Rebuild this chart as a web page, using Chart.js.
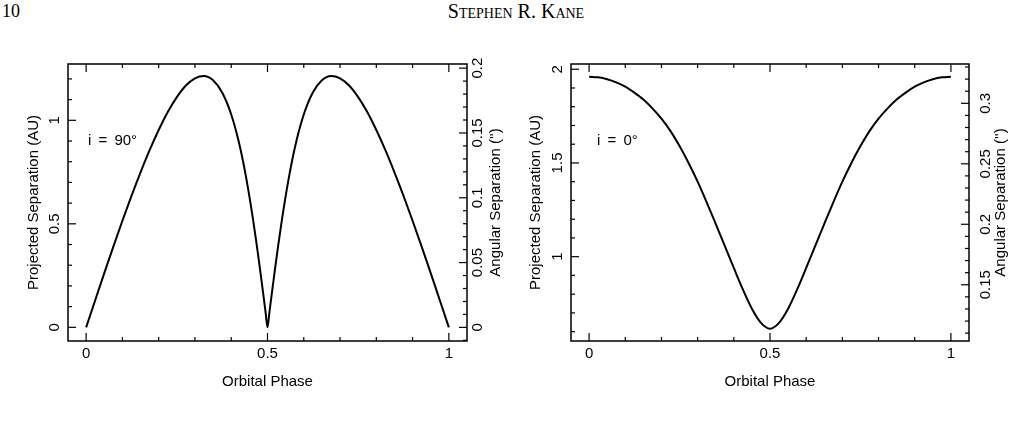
<!DOCTYPE html>
<html>
<head>
<meta charset="utf-8">
<title>Projected and angular separation vs orbital phase</title>
<script src="https://cdn.jsdelivr.net/npm/chart.js@4.4.1/dist/chart.umd.min.js"></script>
<style>
    html, body { margin: 0; padding: 0; background: #fff; }
    body { width: 1015px; height: 421px; position: relative; overflow: hidden; }
    .running-head {
        position: absolute;
        top: 1px;
        font-family: "Liberation Serif", "DejaVu Serif", serif;
        font-size: 18px;
        color: #000;
        white-space: nowrap;
    }
    #folio { left: 2px; }
    #author { left: 0; top: 0; width: 1032px; text-align: center; font-variant: small-caps; font-size: 20px; }
    canvas { position: absolute; top: 0; }
    #edge-on { left: 0; }
    #face-on { left: 507px; }
</style>
</head>
<body>
<div class="running-head" id="folio">10</div>
<div class="running-head" id="author">Stephen R. Kane</div>
<canvas id="edge-on" width="507" height="421"></canvas>
<canvas id="face-on" width="508" height="421"></canvas>

<script>
// --- 1. DATA ---
const phaseTicks = [0, 0.5, 1];

// left panel, i = 90 deg
const edgeOnPhase = [0, 0.025, 0.05, 0.075, 0.1, 0.125, 0.15, 0.175, 0.2, 0.225, 0.25, 0.275, 0.3, 0.325, 0.35, 0.375, 0.4,
    0.42, 0.44, 0.46, 0.47, 0.48, 0.49, 0.495, 0.5, 0.505, 0.51, 0.52, 0.53, 0.54, 0.56, 0.58, 0.6,
    0.625, 0.65, 0.675, 0.7, 0.725, 0.75, 0.775, 0.8, 0.825, 0.85, 0.875, 0.9, 0.925, 0.95, 0.975, 1];
const edgeOnSep = [0, 0.131, 0.262, 0.390, 0.515, 0.635, 0.749, 0.856, 0.953, 1.040, 1.112, 1.168, 1.203, 1.214, 1.193, 1.134, 1.028,
    0.902, 0.734, 0.523, 0.402, 0.273, 0.138, 0.069, 0, 0.069, 0.138, 0.273, 0.402, 0.523, 0.734, 0.902, 1.028,
    1.134, 1.193, 1.214, 1.203, 1.168, 1.112, 1.040, 0.953, 0.856, 0.749, 0.635, 0.515, 0.390, 0.262, 0.131, 0];
const edgeOnAuTicks = [0, 0.5, 1];
const edgeOnArcTicks = [0, 0.05, 0.1, 0.15, 0.2];

// right panel, i = 0 deg
const faceOnPhase = [0, 0.025, 0.05, 0.075, 0.1, 0.125, 0.15, 0.175, 0.2, 0.225, 0.25, 0.275, 0.3, 0.325, 0.35, 0.375, 0.4, 0.425, 0.45, 0.475,
    0.5, 0.525, 0.55, 0.575, 0.6, 0.625, 0.65, 0.675, 0.7, 0.725, 0.75, 0.775, 0.8, 0.825, 0.85, 0.875, 0.9, 0.925, 0.95, 0.975, 1];
const faceOnSep = [1.960, 1.957, 1.947, 1.930, 1.907, 1.875, 1.838, 1.791, 1.736, 1.670, 1.590, 1.500, 1.400, 1.290, 1.175, 1.058, 0.940, 0.825, 0.722, 0.647,
    0.616, 0.647, 0.722, 0.825, 0.940, 1.058, 1.175, 1.290, 1.400, 1.500, 1.590, 1.670, 1.736, 1.791, 1.838, 1.875, 1.907, 1.930, 1.947, 1.957, 1.960];
const faceOnAuTicks = [1, 1.5, 2];
const faceOnArcTicks = [0.15, 0.2, 0.25, 0.3];

const panelLabels = ['i = 90°', 'i = 0°'];

// --- 2. CONFIG ---
const CONFIG = {
    FONT: { family: '"Liberation Sans", Arial, sans-serif', size: 15 },
    INK: '#000',
    FRAME_WIDTH: 1.5,
    TICK_WIDTH: 1.2,
    MAJOR_TICK: 8,
    MINOR_TICK: 4,
    X_TITLE: 'Orbital Phase',
    Y_TITLE: 'Projected Separation (AU)',
    Y2_TITLE: "Angular Separation ('')"
};

const PANELS = [
    {
        canvasId: 'edge-on', phase: edgeOnPhase, sep: edgeOnSep,
        auTicks: edgeOnAuTicks, arcTicks: edgeOnArcTicks,
        yMin: -0.066, yMax: 1.272, y2Min: -0.0105, y2Max: 0.2032,
        yMinor: 0.1, y2Minor: 0.01,
        leftWidth: 68, rightWidth: 40,
        leftLabelGap: 13, leftTitleGap: 34, rightLabelGap: 11, rightTitleGap: 29,
        label: panelLabels[0], labelAt: { x: 0.005, y: 0.90 }
    },
    {
        canvasId: 'face-on', phase: faceOnPhase, sep: faceOnSep,
        auTicks: faceOnAuTicks, arcTicks: faceOnArcTicks,
        yMin: 0.55, yMax: 2.028, y2Min: 0.1035, y2Max: 0.3325,
        yMinor: 0.1, y2Minor: 0.01,
        leftWidth: 64, rightWidth: 46,
        leftLabelGap: 13, leftTitleGap: 35, rightLabelGap: 17, rightTitleGap: 32,
        label: panelLabels[1], labelAt: { x: 0.022, y: 1.616 }
    }
];

// --- 3. PGPLOT-STYLE FRAME (inward ticks on all four sides, rotated y labels) ---
const minorValues = (scale, step) => {
    const out = [];
    for (let k = Math.ceil(scale.min / step - 1e-6); k <= Math.floor(scale.max / step + 1e-6); k++) {
        out.push(Math.round(k * step * 1e6) / 1e6);
    }
    return out;
};
const isMajor = (scale, v) => scale.ticks.some(t => Math.abs(t.value - v) < 1e-6);

const segment = (ctx, x1, y1, x2, y2) => {
    ctx.beginPath();
    ctx.moveTo(x1, y1);
    ctx.lineTo(x2, y2);
    ctx.stroke();
};

const rotatedText = (ctx, text, x, y) => {
    ctx.save();
    ctx.translate(x, y);
    ctx.rotate(-Math.PI / 2);
    ctx.textAlign = 'center';
    ctx.textBaseline = 'middle';
    ctx.fillText(text, 0, 0);
    ctx.restore();
};

const pgFramePlugin = {
    id: 'pgFrame',
    afterDraw(chart, args, opts) {
        const { ctx, chartArea: a } = chart;
        const { x: sx, y: sy, y2: sy2 } = chart.scales;
        const font = `${CONFIG.FONT.size}px ${CONFIG.FONT.family}`;

        ctx.save();
        ctx.strokeStyle = CONFIG.INK;
        ctx.fillStyle = CONFIG.INK;

        ctx.lineWidth = CONFIG.TICK_WIDTH;
        minorValues(sx, 0.1).forEach(v => {
            const px = sx.getPixelForValue(v);
            const len = isMajor(sx, v) ? CONFIG.MAJOR_TICK : CONFIG.MINOR_TICK;
            segment(ctx, px, a.bottom, px, a.bottom - len);
            segment(ctx, px, a.top, px, a.top + len);
        });
        minorValues(sy, opts.yMinor).forEach(v => {
            const py = sy.getPixelForValue(v);
            const len = isMajor(sy, v) ? CONFIG.MAJOR_TICK : CONFIG.MINOR_TICK;
            segment(ctx, a.left, py, a.left + len, py);
        });
        minorValues(sy2, opts.y2Minor).forEach(v => {
            const py = sy2.getPixelForValue(v);
            const len = isMajor(sy2, v) ? CONFIG.MAJOR_TICK : CONFIG.MINOR_TICK;
            segment(ctx, a.right, py, a.right - len, py);
        });

        ctx.lineWidth = CONFIG.FRAME_WIDTH;
        ctx.strokeRect(a.left, a.top, a.right - a.left, a.bottom - a.top);

        ctx.font = font;
        sy.ticks.forEach(t => rotatedText(ctx, String(t.value), a.left - opts.leftLabelGap, sy.getPixelForValue(t.value)));
        sy2.ticks.forEach(t => rotatedText(ctx, String(t.value), a.right + opts.rightLabelGap, sy2.getPixelForValue(t.value)));

        const midY = (a.top + a.bottom) / 2;
        rotatedText(ctx, CONFIG.Y_TITLE, a.left - opts.leftTitleGap, midY);
        rotatedText(ctx, CONFIG.Y2_TITLE, a.right + opts.rightTitleGap, midY);

        // inclination label
        if ('wordSpacing' in ctx) ctx.wordSpacing = '3px';
        ctx.textAlign = 'left';
        ctx.textBaseline = 'middle';
        ctx.fillText(opts.label, sx.getPixelForValue(opts.labelAt.x), sy.getPixelForValue(opts.labelAt.y));
        ctx.restore();
    }
};

// --- 4. CHART FACTORY ---
function buildPanel(panel) {
    const ctx = document.getElementById(panel.canvasId).getContext('2d');
    const hiddenAxis = { display: false, drawTicks: false };

    return new Chart(ctx, {
        type: 'line',
        data: {
            datasets: [{
                data: panel.phase.map((p, i) => ({ x: p, y: panel.sep[i] })),
                borderColor: CONFIG.INK,
                borderWidth: 2,
                pointRadius: 0,
                fill: false,
                cubicInterpolationMode: 'monotone'
            }]
        },
        options: {
            responsive: false,
            animation: false,
            devicePixelRatio: 1,
            layout: { padding: { top: 64, left: 0, right: 0, bottom: 0 } },
            plugins: {
                legend: { display: false },
                tooltip: { enabled: false },
                pgFrame: panel
            },
            scales: {
                x: {
                    type: 'linear',
                    min: -0.05,
                    max: 1.05,
                    afterBuildTicks: s => { s.ticks = phaseTicks.map(v => ({ value: v })); },
                    afterFit: s => { s.height = 80; },
                    grid: hiddenAxis,
                    border: { display: false },
                    ticks: {
                        color: CONFIG.INK,
                        font: CONFIG.FONT,
                        padding: 4,
                        maxRotation: 0,
                        autoSkip: false,
                        callback: v => String(v)
                    },
                    title: {
                        display: true,
                        text: CONFIG.X_TITLE,
                        color: CONFIG.INK,
                        font: CONFIG.FONT,
                        padding: { top: 0, bottom: 30 }
                    }
                },
                y: {
                    type: 'linear',
                    position: 'left',
                    min: panel.yMin,
                    max: panel.yMax,
                    afterBuildTicks: s => { s.ticks = panel.auTicks.map(v => ({ value: v })); },
                    afterFit: s => { s.width = panel.leftWidth; },
                    grid: hiddenAxis,
                    border: { display: false },
                    ticks: { display: false }
                },
                y2: {
                    type: 'linear',
                    position: 'right',
                    min: panel.y2Min,
                    max: panel.y2Max,
                    afterBuildTicks: s => { s.ticks = panel.arcTicks.map(v => ({ value: v })); },
                    afterFit: s => { s.width = panel.rightWidth; },
                    grid: hiddenAxis,
                    border: { display: false },
                    ticks: { display: false }
                }
            }
        },
        plugins: [pgFramePlugin]
    });
}

// Bootstrap
window.Panels = PANELS.map(buildPanel);
</script>
</body>
</html>
